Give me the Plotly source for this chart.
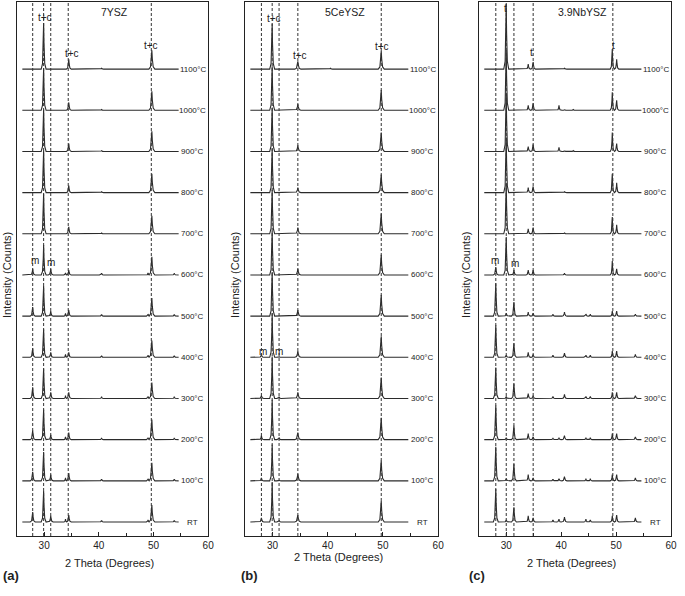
#!/usr/bin/env python3
"""Stacked XRD patterns of 7YSZ, 5CeYSZ and 3.9NbYSZ after heat treatment."""

import plotly.graph_objects as go

# Temperature rows, bottom to top
TEMPS = ["RT", "100°C", "200°C", "300°C", "400°C", "500°C",
         "600°C", "700°C", "800°C", "900°C", "1000°C", "1100°C"]
OFFSET_STEP = 100  # vertical stacking step, same units as the heights
SCAN_START, SCAN_END = 26.0, 54.6

# ---- (a) 7YSZ ----
A_PEAKS = [27.9, 29.9, 31.2, 33.9, 34.5, 40.5, 49.0, 49.7, 53.8]
A_WIDTHS = [0.45, 0.45, 0.45, 0.3, 0.45, 0.4, 0.3, 0.55, 0.4]
A_HEIGHTS = [
    [24, 75, 15, 7, 17, 4, 5, 41, 4],
    [22, 70, 15, 7, 19, 4, 5, 44, 4],
    [22, 73, 12, 7, 17, 4, 5, 49, 4],
    [27, 73, 15, 7, 15, 4, 5, 39, 4],
    [22, 68, 12, 7, 12, 4, 5, 41, 4],
    [22, 73, 12, 7, 15, 4, 5, 44, 4],
    [15, 73, 15, 5, 12, 4, 5, 44, 4],
    [0, 97, 0, 0, 17, 2, 0, 44, 0],
    [0, 102, 0, 0, 17, 2, 0, 46, 0],
    [0, 102, 0, 0, 19, 2, 0, 49, 0],
    [0, 102, 0, 0, 19, 2, 0, 46, 0],
    [0, 112, 0, 0, 24, 2, 0, 46, 0],
]
A_DASH = [27.9, 29.9, 31.2, 34.4, 49.6]

# ---- (b) 5CeYSZ ----
B_PEAKS = [28.0, 29.95, 31.2, 34.6, 40.5, 49.7]
B_WIDTHS = [0.45, 0.45, 0.4, 0.55, 0.4, 0.55]
B_HEIGHTS = [
    [10, 97, 4, 17, 1, 51],
    [7, 88, 2, 17, 1, 49],
    [10, 97, 5, 17, 1, 53],
    [7, 102, 4, 15, 1, 51],
    [7, 107, 2, 15, 1, 51],
    [0, 107, 0, 15, 1, 51],
    [0, 107, 0, 15, 1, 49],
    [0, 107, 0, 15, 1, 49],
    [0, 107, 0, 12, 1, 44],
    [0, 107, 0, 15, 1, 46],
    [0, 107, 0, 15, 1, 49],
    [0, 110, 0, 19, 2, 44],
]
B_DASH = [28.0, 29.95, 31.2, 34.6, 49.7]

# ---- (c) 3.9NbYSZ ----
C_PEAKS = [28.1, 30.0, 31.4, 34.0, 34.9, 38.5, 39.6, 40.6, 42.2,
           44.5, 45.3, 49.3, 50.1, 53.5]
C_WIDTHS = [0.45, 0.45, 0.45, 0.42, 0.42, 0.4, 0.4, 0.45, 0.4,
            0.38, 0.38, 0.38, 0.4, 0.45]
C_HEIGHTS = [
    [80, 5, 36, 15, 10, 5, 7, 12, 0, 7, 5, 15, 17, 10],
    [83, 5, 41, 15, 7, 4, 5, 10, 0, 5, 5, 15, 15, 7],
    [83, 5, 34, 15, 7, 4, 5, 10, 0, 5, 5, 15, 15, 7],
    [75, 5, 36, 12, 7, 5, 0, 10, 0, 5, 5, 15, 15, 7],
    [78, 5, 34, 12, 7, 5, 0, 10, 0, 5, 5, 15, 15, 7],
    [80, 7, 34, 10, 7, 5, 0, 10, 0, 5, 5, 12, 12, 5],
    [19, 92, 12, 12, 12, 0, 0, 4, 0, 0, 0, 34, 15, 0],
    [0, 122, 0, 12, 15, 0, 0, 2, 0, 0, 0, 41, 22, 0],
    [0, 134, 0, 12, 15, 0, 0, 2, 0, 0, 0, 46, 24, 0],
    [0, 141, 0, 12, 17, 0, 10, 2, 2, 0, 0, 46, 19, 0],
    [0, 146, 0, 12, 17, 0, 12, 2, 2, 0, 0, 44, 24, 0],
    [0, 158, 0, 12, 17, 0, 0, 2, 0, 0, 0, 49, 24, 0],
]
C_DASH = [28.1, 30.0, 31.4, 34.9, 49.4]

# peak outline (fraction of half-width, fraction of height)
PROFILE_DX = [-1.0, -0.45, -0.15, 0.0, 0.15, 0.45, 1.0]
PROFILE_DY = [0.0, 0.12, 0.55, 1.0, 0.55, 0.12, 0.0]

LINE_COLOR = "#2b2b2b"
TEXT_COLOR = "#222222"
FONT = "Liberation Sans, Arial, sans-serif"
W, H = 685, 596


def build_pattern(peaks, widths, heights, base):
    """Line through baseline and peak outline points for one scan."""
    xs, ys = [SCAN_START], [base]
    for pos, w, h in zip(peaks, widths, heights):
        if h <= 0:
            continue
        for dx, dy in zip(PROFILE_DX, PROFILE_DY):
            xs.append(pos + dx * w)
            ys.append(base + dy * h)
    xs.append(SCAN_END)
    ys.append(base)
    return xs, ys


def paper_text(fig, px, py, text, size, angle=0):
    fig.add_annotation(
        x=px / W, y=1 - py / H, xref="paper", yref="paper", text=text,
        xanchor="center", yanchor="middle", textangle=angle, showarrow=False,
        font=dict(size=size, color=TEXT_COLOR, family=FONT),
    )


def main():
    fig = go.Figure()

    panels = [
        dict(name="7YSZ", peaks=A_PEAKS, widths=A_WIDTHS, heights=A_HEIGHTS,
             dash=A_DASH, dom=(17, 210), tag="(a)",
             labels=[("t+c", 30.2, 1226), ("t+c", 35.0, 1139), ("t+c", 49.5, 1158),
                     ("m", 28.4, 634), ("m", 31.3, 631)],
             title_x=42.9, ytitle_x=7, xtitle=(110, 563), tag_x=11),
        dict(name="5CeYSZ", peaks=B_PEAKS, widths=B_WIDTHS, heights=B_HEIGHTS,
             dash=B_DASH, dom=(247, 442), tag="(b)",
             labels=[("t+c", 30.2, 1224), ("t+c", 35.0, 1134), ("t+c", 49.8, 1156),
                     ("m", 28.2, 413), ("m", 31.25, 413)],
             title_x=43.2, ytitle_x=237, xtitle=(341, 557), tag_x=252),
        dict(name="3.9NbYSZ", peaks=C_PEAKS, widths=C_WIDTHS, heights=C_HEIGHTS,
             dash=C_DASH, dom=(483, 677), tag="(c)",
             labels=[("t", 29.8, 1248), ("t", 34.6, 1141), ("t", 49.5, 1158),
                     ("m", 28.0, 634), ("m", 31.6, 629)],
             title_x=43.9, ytitle_x=470, xtitle=(577, 563), tag_x=481),
    ]

    y_lo, y_hi = -34, 1263

    for k, p in enumerate(panels):
        xa = "x" if k == 0 else f"x{k + 1}"
        ya = "y" if k == 0 else f"y{k + 1}"
        xkey = "xaxis" if k == 0 else f"xaxis{k + 1}"
        ykey = "yaxis" if k == 0 else f"yaxis{k + 1}"

        for i, row in enumerate(p["heights"]):
            xs, ys = build_pattern(p["peaks"], p["widths"], row, i * OFFSET_STEP)
            fig.add_trace(go.Scatter(
                x=xs, y=ys, mode="lines", xaxis=xa, yaxis=ya,
                line=dict(color=LINE_COLOR, width=1.1), showlegend=False,
                hoverinfo="skip",
            ))
            fig.add_annotation(
                x=57.2, y=i * OFFSET_STEP, xref=xa, yref=ya, text=TEMPS[i],
                xanchor="center", yanchor="middle", showarrow=False,
                font=dict(size=8, color=TEXT_COLOR, family=FONT),
            )

        for d in p["dash"]:
            fig.add_shape(
                type="line", x0=d, x1=d, y0=0, y1=1, xref=xa, yref=f"{ya} domain",
                line=dict(color="#333", width=1, dash="3px,2px"),
            )

        fig.add_annotation(
            x=p["title_x"], y=1238, xref=xa, yref=ya, text=p["name"],
            xanchor="center", yanchor="middle", showarrow=False,
            font=dict(size=10.5, color=TEXT_COLOR, family=FONT),
        )
        for txt, lx, ly in p["labels"]:
            fig.add_annotation(
                x=lx, y=ly, xref=xa, yref=ya, text=txt, showarrow=False,
                xanchor="center", yanchor="middle",
                font=dict(size=10, color=TEXT_COLOR, family=FONT),
            )

        # axis titles and panel tag
        paper_text(fig, p["ytitle_x"], 275, "Intensity (Counts)", 11, angle=-90)
        paper_text(fig, p["xtitle"][0], p["xtitle"][1], "2 Theta (Degrees)", 11)
        paper_text(fig, p["tag_x"], 575, f"<b>{p['tag']}</b>", 13)

        fig.layout[xkey] = dict(
            domain=[p["dom"][0] / W, p["dom"][1] / W], anchor=ya,
            range=[25, 60], tickvals=[30, 40, 50, 60], ticks="inside",
            ticklen=4, tickcolor="#222", showline=True, mirror=True,
            linecolor="#222", linewidth=1, showgrid=False, zeroline=False,
            tickfont=dict(size=10, color=TEXT_COLOR, family=FONT),
            minor=dict(tickvals=[35, 45, 55], ticks="inside", ticklen=3,
                       tickcolor="#222"),
        )
        fig.layout[ykey] = dict(
            domain=[1 - 536 / H, 1 - 2 / H], anchor=xa, range=[y_lo, y_hi],
            showticklabels=False, ticks="", showline=True, mirror=True,
            linecolor="#222", linewidth=1, showgrid=False, zeroline=False,
        )

    fig.update_layout(
        width=W, height=H, autosize=False,
        margin=dict(l=0, r=0, t=0, b=0),
        paper_bgcolor="white", plot_bgcolor="white",
        font=dict(family=FONT, color=TEXT_COLOR),
        showlegend=False,
    )

    # drop the browser's default page margin so the figure sits at (0, 0)
    fig.write_html(
        "out.html",
        config={"displayModeBar": False},
        post_script="document.body.style.margin='0px';",
    )


if __name__ == "__main__":
    main()
